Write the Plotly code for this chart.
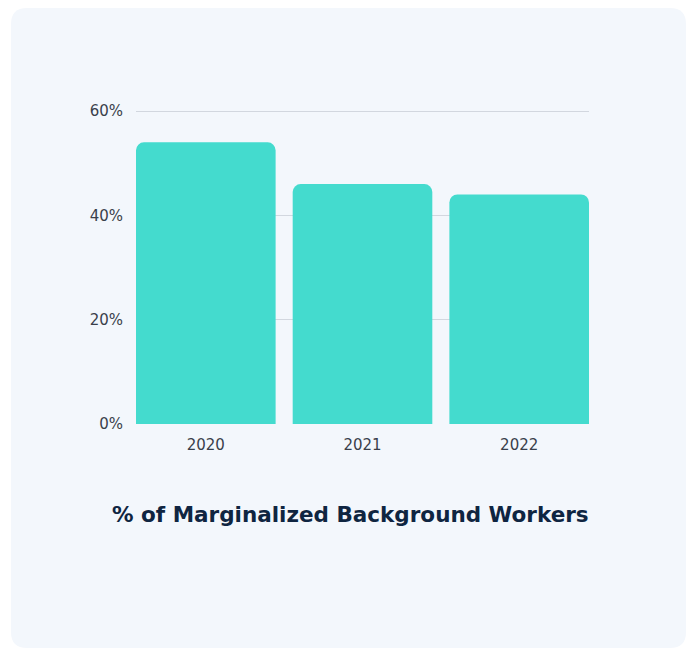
import plotly.graph_objects as go

# Chart data
years = ["2020", "2021", "2022"]
share_pct = [54, 46, 44]
y_ticks = [0, 20, 40, 60]
y_tick_labels = ["0%", "20%", "40%", "60%"]
title_text = "% of Marginalized Background Workers"

W, H = 691, 652
# plot area in pixels; the y range runs a hair past 60 so its gridline is kept
PL, PR, PT, PB = 136, 589, 110, 424
Y_MAX = 60.2
BARGAP = 0.109

BAR_COLOR = "#44DBCE"
CARD_COLOR = "#F3F7FC"
TEXT_COLOR = "#3A3F4B"
TITLE_COLOR = "#0F2541"
FONT = "DejaVu Sans, Verdana, sans-serif"


def px_x(x):
    return (x - PL) / (PR - PL)


def px_y(y):
    return (PB - y) / (PB - PT)


def rounded_rect(x0, y0, x1, y1, r):
    """SVG path for a rounded rectangle in paper coords, given pixel corners."""
    X, Y = px_x, px_y
    parts = [
        f"M {X(x0 + r)},{Y(y0)}",
        f"L {X(x1 - r)},{Y(y0)}",
        f"Q {X(x1)},{Y(y0)} {X(x1)},{Y(y0 + r)}",
        f"L {X(x1)},{Y(y1 - r)}",
        f"Q {X(x1)},{Y(y1)} {X(x1 - r)},{Y(y1)}",
        f"L {X(x0 + r)},{Y(y1)}",
        f"Q {X(x0)},{Y(y1)} {X(x0)},{Y(y1 - r)}",
        f"L {X(x0)},{Y(y0 + r)}",
        f"Q {X(x0)},{Y(y0)} {X(x0 + r)},{Y(y0)}",
        "Z",
    ]
    return " ".join(parts)


fig = go.Figure(
    go.Bar(
        x=years,
        y=share_pct,
        marker=dict(color=BAR_COLOR, line=dict(width=0)),
        hoverinfo="skip",
    )
)

fig.update_layout(
    width=W,
    height=H,
    margin=dict(l=PL, r=W - PR, t=PT, b=H - PB),
    paper_bgcolor="white",
    plot_bgcolor="rgba(0,0,0,0)",
    bargap=BARGAP,
    barcornerradius=8,
    showlegend=False,
    font=dict(family=FONT, color=TEXT_COLOR),
    shapes=[
        dict(
            type="path",
            xref="paper",
            yref="paper",
            path=rounded_rect(11, 8, 686, 648, 16),
            fillcolor=CARD_COLOR,
            line=dict(width=0),
            layer="below",
        )
    ],
    annotations=[
        dict(
            text=f"<b>{title_text}</b>",
            xref="paper",
            yref="paper",
            x=px_x(350),
            y=px_y(514),
            xanchor="center",
            yanchor="middle",
            showarrow=False,
            font=dict(size=21.5, color=TITLE_COLOR, family=FONT),
        )
    ],
)

fig.update_xaxes(
    range=[-0.5 + BARGAP / 2, 2.5 - BARGAP / 2],
    showgrid=False,
    showline=False,
    zeroline=False,
    ticks="",
    ticklabelstandoff=10,
    tickfont=dict(size=15, color=TEXT_COLOR),
)

fig.update_yaxes(
    range=[0, Y_MAX],
    tickvals=y_ticks,
    ticktext=y_tick_labels,
    showgrid=True,
    gridcolor="#D2D7DF",
    gridwidth=1,
    zeroline=False,
    showline=False,
    ticks="",
    ticklabelstandoff=12,
    tickfont=dict(size=15, color=TEXT_COLOR),
)

fig.write_html("out.html")
